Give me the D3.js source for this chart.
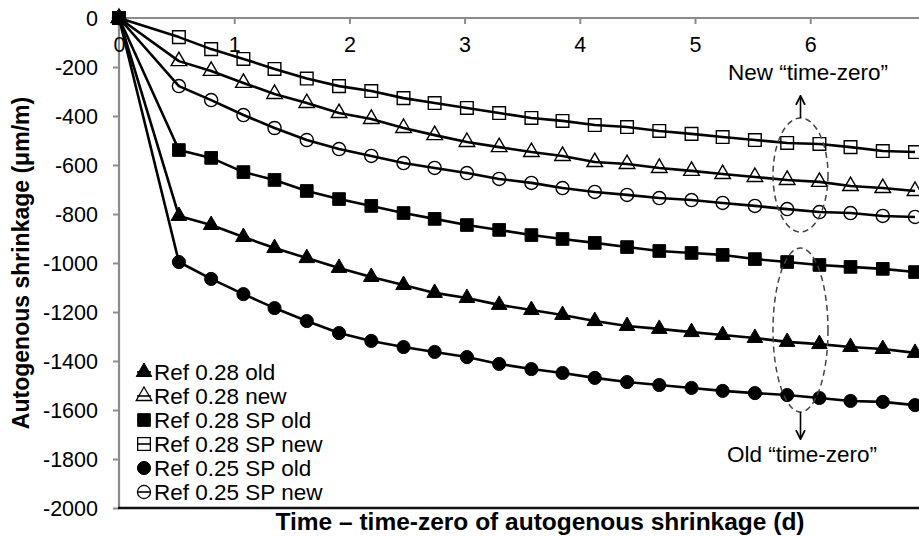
<!DOCTYPE html>
<html>
<head>
<meta charset="utf-8">
<script src="https://cdn.jsdelivr.net/npm/d3@7"></script>
<style>
  body { margin: 0; background: #fff; }
  text { font-family: "Liberation Sans", Arial, Helvetica, sans-serif; fill: #000; }
</style>
</head>
<body>
<svg id="chart" width="919" height="536"></svg>
<script>
// Time after time-zero (d)
const days = [0, 0.52, 0.80, 1.08, 1.35, 1.63, 1.91, 2.19, 2.47, 2.74, 3.02, 3.30, 3.58,
  3.85, 4.13, 4.41, 4.69, 4.97, 5.24, 5.52, 5.80, 6.08, 6.35, 6.63, 6.91];

// Autogenous shrinkage (µm/m)
const ref028Old = [0, -808, -845, -894, -939, -980, -1020, -1057, -1090, -1122, -1143, -1171, -1192,
  -1212, -1237, -1257, -1269, -1282, -1294, -1306, -1322, -1331, -1343, -1351, -1367];
const ref028New = [0, -176, -216, -265, -310, -347, -388, -412, -449, -478, -506, -527, -547,
  -563, -588, -596, -612, -624, -637, -649, -661, -669, -686, -694, -706];
const ref028SpOld = [0, -539, -571, -629, -661, -706, -739, -767, -796, -820, -845, -865, -886,
  -902, -918, -935, -951, -959, -967, -984, -996, -1008, -1016, -1024, -1037];
const ref028SpNew = [0, -78, -127, -167, -208, -247, -278, -298, -327, -347, -367, -388, -408,
  -420, -437, -445, -461, -473, -486, -498, -510, -514, -527, -543, -547];
const ref025SpOld = [0, -996, -1065, -1127, -1184, -1237, -1286, -1318, -1343, -1363, -1384, -1412, -1433,
  -1449, -1469, -1486, -1498, -1510, -1522, -1531, -1539, -1551, -1563, -1567, -1580];
const ref025SpNew = [0, -278, -335, -396, -449, -498, -535, -563, -592, -612, -633, -657, -673,
  -694, -710, -722, -735, -743, -755, -767, -780, -792, -796, -808, -812];

const seriesNames = ["Ref 0.28 old", "Ref 0.28 new", "Ref 0.28 SP old",
  "Ref 0.28 SP new", "Ref 0.25 SP old", "Ref 0.25 SP new"];
const seriesValues = [ref028Old, ref028New, ref028SpOld, ref028SpNew, ref025SpOld, ref025SpNew];

const xTicks = [0, 1, 2, 3, 4, 5, 6];
const yTicks = [0, -200, -400, -600, -800, -1000, -1200, -1400, -1600, -1800, -2000];

const xTitle = "Time \u2013 time-zero of autogenous shrinkage (d)";
const yTitle = "Autogenous shrinkage (\u03bcm/m)";
const noteNew = "New \u201ctime-zero\u201d";
const noteOld = "Old \u201ctime-zero\u201d";

// marker style per series
const markerTypes = [d3.symbolTriangle, d3.symbolTriangle, d3.symbolSquare,
  d3.symbolSquare, d3.symbolCircle, d3.symbolCircle];
const markerSizes = [105, 105, 160, 160, 135, 135];
const markerFilled = [true, false, true, false, true, false];

const svg = d3.select("#chart");
const W = 919, H = 536;

const x = d3.scaleLinear().domain([0, 7]).range([119, 925.4]);
const y = d3.scaleLinear().domain([-2000, 0]).range([508, 18]);

const axisGrey = "#8a8a8a";
const tickFont = 21.5;

// left value axis
const yAxis = svg.append("g")
  .attr("transform", `translate(${x(0)},0)`)
  .call(d3.axisLeft(y).tickValues(yTicks).tickSize(6).tickPadding(15));
yAxis.select(".domain").attr("stroke", axisGrey).attr("stroke-width", 2.2).attr("d", `M0,${y(0)}V${y(-2000)}`);
yAxis.selectAll(".tick line").attr("stroke", axisGrey).attr("stroke-width", 2);
yAxis.selectAll(".tick text")
  .attr("font-size", tickFont).attr("fill", "#000")
  .attr("font-family", "Liberation Sans, Arial, sans-serif").attr("dy", "0.36em")
  .text(d => String(d));

// time axis along the zero line
const xAxis = svg.append("g")
  .attr("transform", `translate(0,${y(0)})`)
  .call(d3.axisBottom(x).tickValues(xTicks).tickSize(6).tickPadding(13));
xAxis.select(".domain").attr("stroke", axisGrey).attr("stroke-width", 2.2).attr("d", `M${x(0)},0H${W}`);
xAxis.selectAll(".tick line").attr("stroke", axisGrey).attr("stroke-width", 2);
xAxis.selectAll(".tick text")
  .attr("font-size", tickFont).attr("fill", "#000")
  .attr("font-family", "Liberation Sans, Arial, sans-serif")
  .text(d => String(d));

// bottom frame line
svg.append("line")
  .attr("x1", x(0) - 1).attr("x2", W)
  .attr("y1", y(-2000)).attr("y2", y(-2000))
  .attr("stroke", "#111").attr("stroke-width", 2.6);

// series lines and markers
const line = d3.line().x((d, i) => x(days[i])).y(d => y(d));
const plot = svg.append("g");

seriesValues.forEach((vals) => {
  plot.append("path")
    .attr("d", line(vals))
    .attr("fill", "none")
    .attr("stroke", "#000")
    .attr("stroke-width", 2.6)
    .attr("stroke-linejoin", "round");
});

seriesValues.forEach((vals, s) => {
  const sym = d3.symbol().type(markerTypes[s]).size(markerSizes[s]);
  plot.append("g").selectAll("path")
    .data(vals)
    .join("path")
    .attr("transform", (d, i) => `translate(${x(days[i])},${y(d)})`)
    .attr("d", sym)
    .attr("fill", markerFilled[s] ? "#000" : "none")
    .attr("stroke", "#000")
    .attr("stroke-width", markerFilled[s] ? 1 : 1.4);
});

// legend
const legend = svg.append("g");
seriesNames.forEach((name, s) => {
  const ly = 372 + s * 24;
  legend.append("line")
    .attr("x1", 137).attr("x2", 151).attr("y1", ly).attr("y2", ly)
    .attr("stroke", "#000").attr("stroke-width", 1.6);
  legend.append("path")
    .attr("transform", `translate(144,${ly})`)
    .attr("d", d3.symbol().type(markerTypes[s]).size(markerSizes[s])())
    .attr("fill", markerFilled[s] ? "#000" : "none")
    .attr("stroke", "#000")
    .attr("stroke-width", markerFilled[s] ? 1 : 1.3);
  legend.append("text")
    .attr("x", 154).attr("y", ly).attr("dy", "0.36em")
    .attr("font-size", 22.5)
    .text(name);
});

// axis titles
svg.append("text")
  .attr("x", 540).attr("y", 530)
  .attr("text-anchor", "middle")
  .attr("font-size", 24.5).attr("font-weight", "bold")
  .text(xTitle);

svg.append("text")
  .attr("transform", `translate(29,263) rotate(-90)`)
  .attr("text-anchor", "middle")
  .attr("font-size", 23).attr("font-weight", "bold")
  .text(yTitle);

// time-zero annotations
const defs = svg.append("defs");
defs.append("marker")
  .attr("id", "arrowHead")
  .attr("viewBox", "0 0 10 10")
  .attr("refX", 8).attr("refY", 5)
  .attr("markerWidth", 7).attr("markerHeight", 7)
  .attr("orient", "auto")
  .append("path")
  .attr("d", "M1,1 L9,5 L1,9")
  .attr("fill", "none").attr("stroke", "#000").attr("stroke-width", 1.6);

const notes = svg.append("g");
notes.append("ellipse")
  .attr("cx", 800.5).attr("cy", 175).attr("rx", 27.5).attr("ry", 57)
  .attr("fill", "none").attr("stroke", "#444").attr("stroke-width", 1.5)
  .attr("stroke-dasharray", "6,4");
notes.append("ellipse")
  .attr("cx", 800.5).attr("cy", 330).attr("rx", 27.5).attr("ry", 82)
  .attr("fill", "none").attr("stroke", "#444").attr("stroke-width", 1.5)
  .attr("stroke-dasharray", "6,4");
notes.append("line")
  .attr("x1", 800.5).attr("y1", 118).attr("x2", 800.5).attr("y2", 97)
  .attr("stroke", "#000").attr("stroke-width", 1.6)
  .attr("marker-end", "url(#arrowHead)");
notes.append("line")
  .attr("x1", 800.5).attr("y1", 412).attr("x2", 800.5).attr("y2", 438)
  .attr("stroke", "#000").attr("stroke-width", 1.6)
  .attr("marker-end", "url(#arrowHead)");
notes.append("text")
  .attr("x", 808).attr("y", 80)
  .attr("text-anchor", "middle").attr("font-size", 22.5)
  .text(noteNew);
notes.append("text")
  .attr("x", 802).attr("y", 462)
  .attr("text-anchor", "middle").attr("font-size", 22.5)
  .text(noteOld);
</script>
</body>
</html>
